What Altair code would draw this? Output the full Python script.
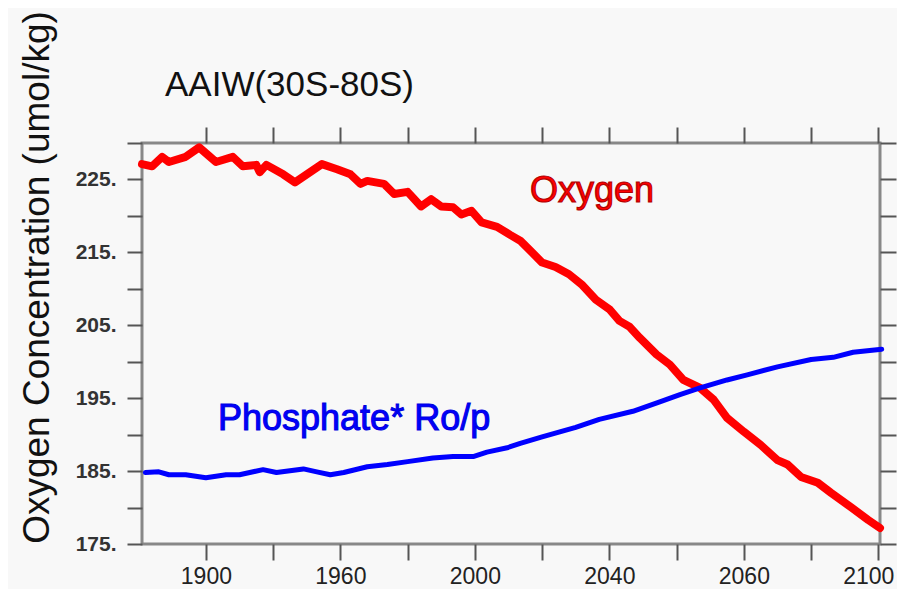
import altair as alt
import pandas as pd

# ---- data ----
oxy_years = [1881, 1884, 1887, 1889, 1894, 1898, 1901, 1903, 1908, 1911, 1915, 1916, 1918,
             1923, 1926.5, 1930, 1934.5, 1939, 1943, 1946, 1948, 1953, 1956, 1960, 1964,
             1967, 1970, 1973.5, 1976, 1979, 1982, 1986.6, 1990.5, 1993.5, 1997, 2000,
             2004, 2008, 2012, 2016, 2020, 2023, 2026, 2029, 2034, 2038, 2042, 2047, 2051,
             2055, 2060, 2065, 2070, 2073, 2077, 2082, 2086, 2092, 2097, 2100.5]
oxy_values = [227.1, 226.8, 228.1, 227.4, 228.1, 229.4, 228.2, 227.4, 228.1, 226.8, 227.0, 226.0, 227.0,
              225.7, 224.6, 225.7, 227.1, 226.4, 225.7, 224.4, 224.8, 224.4, 223.0, 223.3, 221.3,
              222.3, 221.3, 221.2, 220.2, 220.7, 219.1, 218.5, 217.4, 216.6, 215.0, 213.6,
              213.0, 212.0, 210.5, 208.5, 207.2, 205.6, 204.8, 203.3, 201.0, 199.6, 197.5, 196.4, 194.8,
              192.3, 190.4, 188.6, 186.5, 185.9, 184.2, 183.4, 182.0, 180.0, 178.3, 177.2]

phos_years = [1882, 1886, 1889, 1894, 1900, 1906, 1910, 1917, 1921, 1929, 1933, 1937, 1941,
              1948, 1954, 1960, 1967.5, 1973.5, 1979.5, 1983.6, 1989.6, 1993.5, 2000, 2010,
              2017, 2027, 2035, 2041, 2047, 2055, 2061, 2070, 2080, 2086.6, 2092.5, 2101]
phos_values = [184.8, 184.9, 184.5, 184.5, 184.1, 184.5, 184.5, 185.2, 184.8, 185.3, 184.9, 184.5, 184.8,
               185.6, 185.9, 186.3, 186.8, 187.0, 187.0, 187.6, 188.2, 188.8, 189.7, 191.0,
               192.1, 193.2, 194.5, 195.5, 196.4, 197.5, 198.2, 199.3, 200.3, 200.6, 201.3, 201.7]

series_names = ["Oxygen", "Phosphate* Ro/p"]
series_colors = ["#ff0000", "#0000ff"]

label_texts = ["Oxygen", "Phosphate* Ro/p"]
label_years = [1996.4, 1903.6]
label_values = [221.9, 190.7]

x_ticks = [1900, 1920, 1940, 1960, 1980, 2000, 2020, 2040, 2060, 2080, 2100]
x_tick_labels = ["1900", "", "1960", "", "2000", "", "2040", "", "2060", "", "2100"]
y_ticks = [175, 180, 185, 190, 195, 200, 205, 210, 215, 220, 225, 230]
y_tick_labels = ["175.", "", "185.", "", "195.", "", "205.", "", "215.", "", "225.", ""]

title_text = "AAIW(30S-80S)"
y_title = "Oxygen Concentration (umol/kg)"

# ---- build tables ----
df = pd.concat([
    pd.DataFrame({"year": oxy_years, "value": oxy_values, "series": series_names[0]}),
    pd.DataFrame({"year": phos_years, "value": phos_values, "series": series_names[1]}),
])
labels_df = pd.DataFrame({"text": label_texts, "year": label_years, "value": label_values,
                          "series": series_names})
title_df = pd.DataFrame({"t": [title_text]})


def label_expr(vals, labs):
    expr = "''"
    for v, l in reversed(list(zip(vals, labs))):
        expr = f"datum.value == {v} ? '{l}' : ({expr})"
    return expr


FONT = "Liberation Sans"
xscale = alt.Scale(domain=[1881, 2100.5], nice=False, zero=False)
yscale = alt.Scale(domain=[175, 230], nice=False, zero=False)
cscale = alt.Scale(domain=series_names, range=series_colors)

x_bottom = alt.Axis(orient="bottom", values=x_ticks, labelExpr=label_expr(x_ticks, x_tick_labels),
                    title=None, domain=False, grid=False, tickSize=16, tickWidth=2,
                    tickColor="#555555", labelFontSize=23, labelFont=FONT, labelColor="#222222",
                    labelPadding=5, labelOverlap=False,
                    labelOffset={"condition": {"test": f"datum.value == {x_ticks[-1]}", "value": -10},
                                 "value": 0})
y_left = alt.Axis(orient="left", values=y_ticks, labelExpr=label_expr(y_ticks, y_tick_labels),
                  title=y_title, titleFontSize=37, titleFont=FONT, titleFontWeight="normal",
                  titleColor="#111111", titleAngle=270, titleX=-94, titleY=134,
                  titleAlign="center", titleBaseline="alphabetic",
                  domain=False, grid=False, tickSize=15, tickWidth=2, tickColor="#555555",
                  labelFontSize=21, labelFont=FONT, labelFontWeight="bold", labelColor="#333333",
                  labelPadding=11, labelOverlap=False)
x_top = alt.Axis(orient="top", values=x_ticks, labels=False, title=None, domain=False, grid=False,
                 tickSize=16, tickWidth=2, tickColor="#555555")
y_right = alt.Axis(orient="right", values=y_ticks, labels=False, title=None, domain=False,
                   grid=False, tickSize=16, tickWidth=2, tickColor="#555555")

lines = alt.Chart(df).mark_line(strokeJoin="round", strokeCap="round").encode(
    x=alt.X("year:Q", scale=xscale, axis=x_bottom),
    y=alt.Y("value:Q", scale=yscale, axis=y_left),
    color=alt.Color("series:N", scale=cscale, legend=None),
    strokeWidth=alt.StrokeWidth("series:N", scale=alt.Scale(domain=series_names, range=[8, 5]),
                                legend=None),
    detail="series:N",
)

frame_axes = alt.Chart(df).mark_line(opacity=0).encode(
    x=alt.X("year:Q", scale=xscale, axis=x_top),
    y=alt.Y("value:Q", scale=yscale, axis=y_right),
    detail="series:N",
)

texts = alt.Chart(labels_df).mark_text(
    align="left", baseline="alphabetic", fontSize=36, font=FONT, strokeWidth=1.1
).encode(
    x=alt.X("year:Q", scale=xscale, axis=None),
    y=alt.Y("value:Q", scale=yscale, axis=None),
    text="text:N",
    color=alt.Color("series:N", scale=cscale, legend=None),
    stroke=alt.Stroke("series:N", scale=alt.Scale(domain=series_names, range=["#b00000", "#0000e0"]),
                      legend=None),
)

title_mark = alt.Chart(title_df).mark_text(
    align="left", baseline="alphabetic", fontSize=35, font=FONT, color="#111111"
).encode(
    text="t:N",
    x=alt.value(23),
    y=alt.value(-47),
)

chart = alt.layer(lines, frame_axes, texts, title_mark).resolve_axis(
    x="independent", y="independent"
).properties(
    width=738,
    height=401,
    autosize=alt.AutoSizeParams(type="none"),
    padding={"left": 134, "top": 135, "right": 17, "bottom": 45},
    background="#f8f8f8",
).configure_view(
    stroke="#888888", strokeWidth=3, fill="#f8f8f8"
)

chart.save("out.html", embed_options={"renderer": "svg", "actions": False})
